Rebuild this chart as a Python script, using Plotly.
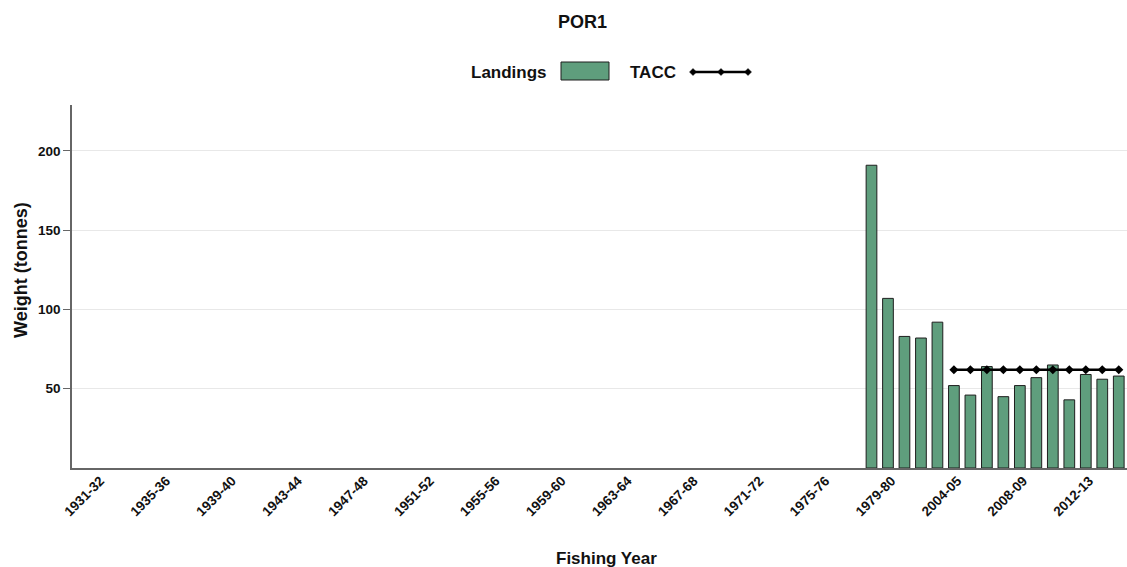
import plotly.graph_objects as go

# ---- data ----
early_years = [f"{y}-{str(y + 1)[-2:]}" for y in range(1931, 1980)]
late_years = [f"{y}-{str(y + 1)[-2:]}" for y in range(2001, 2016)]
categories = early_years + late_years

landing_years = ["1979-80", "2001-02", "2002-03", "2003-04", "2004-05",
                 "2005-06", "2006-07", "2007-08", "2008-09", "2009-10",
                 "2010-11", "2011-12", "2012-13", "2013-14", "2014-15", "2015-16"]
landings = [191, 107, 83, 82, 92, 52, 46, 64, 45, 52, 57, 65, 43, 59, 56, 58]

tacc_years = ["2005-06", "2006-07", "2007-08", "2008-09", "2009-10", "2010-11",
              "2011-12", "2012-13", "2013-14", "2014-15", "2015-16"]
tacc = [62, 62, 62, 62, 62, 62, 62, 62, 62, 62, 62]

tick_labels = categories[::4]
y_ticks = [50, 100, 150, 200]

# ---- styling ----
W, H = 1127, 567
L, R, T, B = 72, 0, 105, 99
BAR = "#5f9e7d"
FONT = "Arial, Liberation Sans, sans-serif"

fig = go.Figure()
fig.add_trace(go.Bar(
    x=landing_years, y=landings, name="Landings",
    marker=dict(color=BAR, line=dict(color="#1e1e1e", width=1)),
    showlegend=False,
))
fig.add_trace(go.Scatter(
    x=tacc_years, y=tacc, name="TACC", mode="lines+markers",
    line=dict(color="black", width=2.5),
    marker=dict(symbol="diamond", size=7, color="black"),
    showlegend=False, cliponaxis=False,
))

pw = W - L - R
ph = H - T - B


def px(x):
    return (x - L) / pw


def py(y):
    return (H - B - y) / ph


annotations = [
    dict(text="<b>POR1</b>", x=px(582), y=py(22), xref="paper", yref="paper",
         showarrow=False, font=dict(size=18, color="#111", family=FONT),
         xanchor="center", yanchor="middle"),
    dict(text="<b>Landings</b>", x=px(549), y=py(72), xref="paper", yref="paper",
         showarrow=False, font=dict(size=17, color="#111", family=FONT),
         xanchor="right", yanchor="middle"),
    dict(text="<b>TACC</b>", x=px(628), y=py(72), xref="paper", yref="paper",
         showarrow=False, font=dict(size=17, color="#111", family=FONT),
         xanchor="left", yanchor="middle"),
    dict(text="<b>Fishing Year</b>", x=px(606), y=py(558), xref="paper", yref="paper",
         showarrow=False, font=dict(size=17, color="#111", family=FONT),
         xanchor="center", yanchor="middle"),
    dict(text="<b>Weight (tonnes)</b>", x=px(21), y=py(270), xref="paper", yref="paper",
         showarrow=False, font=dict(size=18, color="#111", family=FONT),
         xanchor="center", yanchor="middle", textangle=-90),
]

shapes = [
    dict(type="rect", xref="paper", yref="paper",
         x0=px(561), x1=px(609), y0=py(80), y1=py(62),
         fillcolor=BAR, line=dict(color="#1e1e1e", width=1)),
    dict(type="line", xref="paper", yref="paper",
         x0=px(693), x1=px(748), y0=py(72), y1=py(72),
         line=dict(color="black", width=2.5)),
]
for mx in (693, 721, 748):
    d = 3.5
    path = (f"M {px(mx - d)},{py(72)} L {px(mx)},{py(72 - d)} "
            f"L {px(mx + d)},{py(72)} L {px(mx)},{py(72 + d)} Z")
    shapes.append(dict(type="path", xref="paper", yref="paper", path=path,
                       fillcolor="black", line=dict(color="black", width=0.5)))

fig.update_layout(
    width=W, height=H,
    margin=dict(l=L, r=R, t=T, b=B, autoexpand=False),
    paper_bgcolor="white", plot_bgcolor="white",
    font=dict(family=FONT, color="#111"),
    bargap=0.35,
    annotations=annotations,
    shapes=shapes,
    xaxis=dict(
        type="category", categoryorder="array", categoryarray=categories,
        range=[-0.5, len(categories) - 0.5],
        tickmode="array", tickvals=tick_labels, ticktext=tick_labels,
        tickangle=-45,
        tickfont=dict(size=13.5, family=FONT, color="#111", weight="bold"),
        ticklabelshift=20, ticklabelstandoff=-2,
        showline=True, linecolor="#666", linewidth=1.5,
        showgrid=False, ticks="", automargin=False,
    ),
    yaxis=dict(
        range=[0, 229],
        tickmode="array", tickvals=y_ticks,
        tickfont=dict(size=13.5, family=FONT, color="#111", weight="bold"),
        showline=True, linecolor="#666", linewidth=1.5,
        ticks="outside", ticklen=7, tickcolor="#666",
        showgrid=True, gridcolor="#e8e8e8", gridwidth=1,
        zeroline=False, automargin=False,
    ),
)

fig.write_html(
    "out.html",
    config={"displayModeBar": False},
    post_script="document.body.style.margin='0';document.body.style.padding='0';",
)
